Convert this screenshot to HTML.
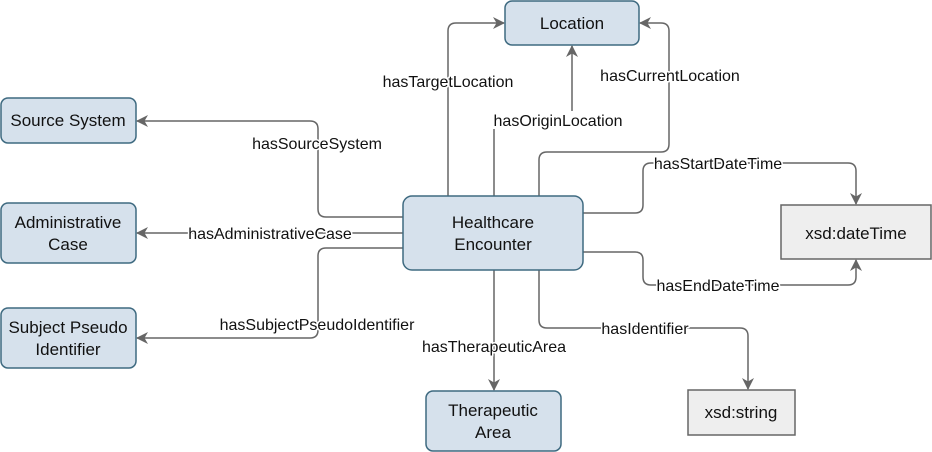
<!DOCTYPE html>
<html><head><meta charset="utf-8"><style>body{margin:0;background:#fff}svg{display:block}text{font-family:"Liberation Sans",Arial,sans-serif;fill:#111}.l text{font-size:16px;stroke:#fff;stroke-width:3px;paint-order:stroke;stroke-linejoin:round}.n text{font-size:17px}</style></head><body>
<svg width="932" height="452" viewBox="0 0 932 452">
<defs><marker id="a" markerWidth="12" markerHeight="12" refX="11" refY="6" orient="auto" markerUnits="userSpaceOnUse"><path d="M0,0 L12,6 L0,12 L3.5,6 z" fill="#666"/></marker></defs>
<g fill="none" stroke="#666" stroke-width="1.5" marker-end="url(#a)">
<path d="M448,196 V31 Q448,23 456,23 H504"/>
<path d="M494,196 V128 Q494,120 502,120 H564 Q572,120 572,112 V46"/>
<path d="M539,196 V160 Q539,152 547,152 H661 Q669,152 669,144 V31 Q669,23 661,23 H640"/>
<path d="M403,217 H326 Q318,217 318,209 V129 Q318,121 310,121 H137"/>
<path d="M403,233 H137"/>
<path d="M403,248 H326 Q318,248 318,256 V330 Q318,338 310,338 H137"/>
<path d="M583,213 H635 Q643,213 643,205 V171 Q643,163 651,163 H848 Q856,163 856,171 V204"/>
<path d="M583,252 H635 Q643,252 643,260 V277 Q643,285 651,285 H848 Q856,285 856,277 V260"/>
<path d="M539,270 V320 Q539,328 547,328 H740 Q748,328 748,336 V389"/>
<path d="M494,270 V390"/>
</g>
<rect x="490" y="111" width="136" height="18" fill="#fff"/>
<g fill="#d6e1ec" stroke="#3e6a80" stroke-width="1.5">
<rect x="505" y="1" width="134" height="44" rx="7"/>
<rect x="403" y="196" width="180" height="74" rx="9"/>
<rect x="1" y="98" width="135" height="45" rx="7"/>
<rect x="1" y="203" width="135" height="60" rx="7"/>
<rect x="1" y="308" width="135" height="60" rx="7"/>
<rect x="426" y="391" width="135" height="60" rx="7"/>
</g>
<g fill="#eeeeee" stroke="#666" stroke-width="1.5">
<rect x="781" y="205" width="150" height="54"/>
<rect x="688" y="390" width="107" height="45"/>
</g>
<g class="n" text-anchor="middle">
<text x="572" y="29">Location</text>
<text x="493" y="228">Healthcare</text>
<text x="493" y="250">Encounter</text>
<text x="68" y="126">Source System</text>
<text x="68" y="228">Administrative</text>
<text x="68" y="250">Case</text>
<text x="68" y="333">Subject Pseudo</text>
<text x="68" y="355">Identifier</text>
<text x="493" y="416">Therapeutic</text>
<text x="493" y="438">Area</text>
<text x="856" y="239">xsd:dateTime</text>
<text x="741" y="418">xsd:string</text>
</g>
<g class="l" text-anchor="middle">
<text x="448" y="87">hasTargetLocation</text>
<text x="558" y="126">hasOriginLocation</text>
<text x="670" y="81">hasCurrentLocation</text>
<text x="317" y="149">hasSourceSystem</text>
<text x="270" y="239">hasAdministrativeCase</text>
<text x="317" y="330">hasSubjectPseudoIdentifier</text>
<text x="718" y="169">hasStartDateTime</text>
<text x="718" y="291">hasEndDateTime</text>
<text x="645" y="334">hasIdentifier</text>
<text x="494" y="352">hasTherapeuticArea</text>
</g>
</svg>
</body></html>
